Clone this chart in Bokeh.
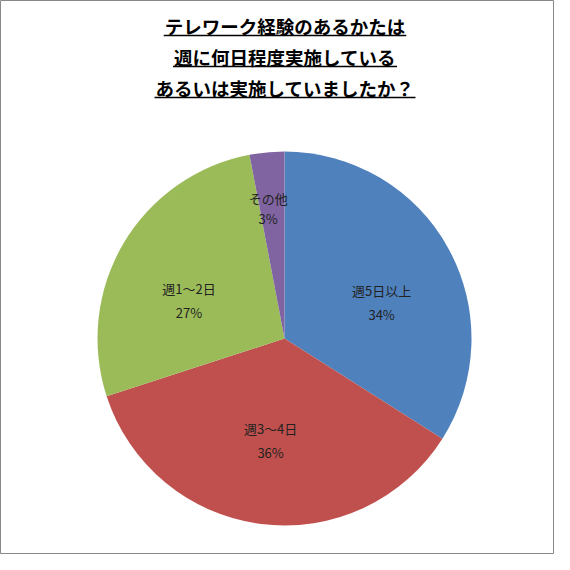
import math
from bokeh.plotting import figure
from bokeh.models import Range1d, ColumnDataSource
from bokeh.core.properties import value
from bokeh.embed import file_html
from bokeh.resources import INLINE

# ---- data ----
categories = ["週5日以上", "週3〜4日", "週1〜2日", "その他"]
percents = [34, 36, 27, 3]
colors = ["#4F81BD", "#C0504D", "#9BBB59", "#8064A2"]
title_lines = ["テレワーク経験のあるかたは", "週に何日程度実施している", "あるいは実施していましたか？"]

W = H = 554
MARGIN = 0

def dx(ax):  # picture x -> data x
    return ax - MARGIN

def dy(ay):  # picture y -> data y (y up)
    return H - (ay - MARGIN)

p = figure(width=W, height=H, output_backend="svg", toolbar_location=None,
           x_range=Range1d(0, W), y_range=Range1d(0, H), min_border=0)
p.axis.visible = False
p.grid.visible = False
p.background_fill_color = "white"
p.border_fill_color = "white"
p.outline_line_color = "#888888"
p.outline_line_width = 1

# ---- pie ----
cx, cy, R = dx(284), dy(338), 187
total = sum(percents)
starts, ends, mids = [], [], []
acc = 0.0
for v in percents:
    a0 = acc / total
    acc += v
    a1 = acc / total
    starts.append(math.pi / 2 - a0 * 2 * math.pi)
    ends.append(math.pi / 2 - a1 * 2 * math.pi)
    mids.append((a0 + a1) / 2)

src = ColumnDataSource(dict(x=[cx] * len(percents), y=[cy] * len(percents),
                            start=starts, end=ends, color=colors))
p.wedge(x="x", y="y", radius=R, start_angle="start", end_angle="end",
        direction="clock", fill_color="color", line_alpha=0, source=src)

# ---- slice labels ----
label_r = [0.55, 0.55, 0.55, 0.70]
label_off = [(7, 14), (-1, 0), (-7, 14), (-4, 0)]
gap = [12, 12, 12, 10]
nx, ny, px, py = [], [], [], []
for i, m in enumerate(mids):
    ang = m * 2 * math.pi
    sx = 284 + label_r[i] * R * math.sin(ang) + label_off[i][0]
    sy = 338 - label_r[i] * R * math.cos(ang) + label_off[i][1]
    nx.append(dx(sx)); ny.append(dy(sy - gap[i]))
    px.append(dx(sx)); py.append(dy(sy + gap[i]))

lab = ColumnDataSource(dict(nx=nx, ny=ny, px=px, py=py, name=categories,
                            pct=[f"{v}%" for v in percents]))
p.text(x="nx", y="ny", text="name", source=lab, text_align="center",
       text_baseline="middle", text_font=value("Noto Sans CJK JP"),
       text_font_size="13px", text_color="#222222")
p.text(x="px", y="py", text="pct", source=lab, text_align="center",
       text_baseline="middle", text_font=value("Noto Sans CJK JP"),
       text_font_size="13px", text_color="#222222")

# ---- title ----
fs = 18.5
tcx = dx(284.5)
ty = [dy(25), dy(56), dy(87)]
p.text(x=[tcx] * 3, y=ty, text=title_lines, text_align="center",
       text_baseline="middle", text_font=value("Noto Sans CJK JP"),
       text_font_size=f"{fs}px", text_font_style="bold", text_color="black")
ul_y = [dy(35), dy(66), dy(97)]
half = [len(t) * fs / 2 + 1 for t in title_lines]
p.segment(x0=[tcx - h for h in half], y0=ul_y, x1=[tcx + h for h in half], y1=ul_y,
          line_color="black", line_width=1.5)

open("out.html", "w").write(file_html(p, INLINE))
